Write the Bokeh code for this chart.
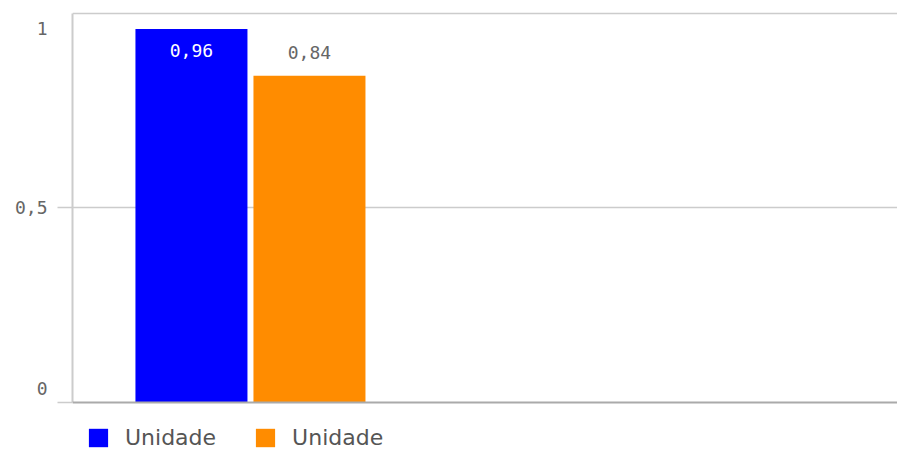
from bokeh.plotting import figure
from bokeh.models import (Range1d, ColumnDataSource, LabelSet, Legend, LegendItem,
                          FixedTicker, Span)
from bokeh.embed import file_html
from bokeh.resources import INLINE

# ---- data ----
series_names = ["Unidade", "Unidade"]
series_values = [0.96, 0.84]
series_colors = ["#0000ff", "#ff8c00"]
value_labels = ["0,96", "0,84"]
y_ticks = [0, 0.5, 1]
y_tick_labels = ["0", "0,5", "1"]

Y0, Y1 = -0.126, 1.005
FRAME_H = 451 - 11
px_per_unit = FRAME_H / (Y1 - Y0)

p = figure(width=897, height=451, output_backend="svg", toolbar_location=None,
           x_range=Range1d(-1.008, 5.983), y_range=Range1d(Y0, Y1),
           min_border_left=72, min_border_right=0, min_border_top=11,
           min_border_bottom=0)
p.outline_line_color = None
p.background_fill_color = "white"
p.border_fill_color = "white"

renderers = []
for i, (v, c) in enumerate(zip(series_values, series_colors)):
    src = ColumnDataSource(dict(x=[i], top=[v]))
    r = p.vbar(x="x", top="top", bottom=0, width=112 / 118, source=src,
               fill_color=c, line_color=None)
    renderers.append(r)

# grid
p.xgrid.visible = False
p.ygrid.ticker = FixedTicker(ticks=[0.5, 1])
p.ygrid.grid_line_color = "#cccccc"
p.ygrid.grid_line_width = 1.5

# y axis: end labels pulled inward (as in reference), stubs at 0 and 0.5
label_pos = []
for t in y_ticks:
    if t == 0:
        label_pos.append(t + 14 / px_per_unit)
    elif t == 1:
        label_pos.append(t - 15 / px_per_unit)
    else:
        label_pos.append(t)
p.yaxis.ticker = FixedTicker(ticks=label_pos, minor_ticks=[0, 0.5])
p.yaxis.major_label_overrides = {pos: lab for pos, lab in zip(label_pos, y_tick_labels)}
p.yaxis.bounds = (0, 1)
p.yaxis.axis_line_color = "#cccccc"
p.yaxis.axis_line_width = 2
p.yaxis.major_tick_line_color = None
p.yaxis.major_tick_out = 0
p.yaxis.major_tick_in = 0
p.yaxis.minor_tick_line_color = "#cccccc"
p.yaxis.minor_tick_line_width = 1.5
p.yaxis.minor_tick_out = 15
p.yaxis.minor_tick_in = 0
p.yaxis.major_label_standoff = 10
p.yaxis.major_label_text_font = "DejaVu Sans Mono"
p.yaxis.major_label_text_font_size = "18px"
p.yaxis.major_label_text_color = "#666666"

# x axis baseline
p.xaxis.visible = False
p.add_layout(Span(location=0, dimension="width", line_color="#aaaaaa", line_width=2))

# value labels
val_src = ColumnDataSource(dict(
    x=list(range(len(series_values))), y=series_values, text=value_labels,
    off=[-21, 23], color=["#ffffff", "#666666"]))
p.add_layout(LabelSet(x="x", y="y", text="text", source=val_src, y_offset="off",
                      text_align="center", text_baseline="middle",
                      text_font={"value": "DejaVu Sans Mono"}, text_font_size="18px",
                      text_color="color"))

# legend
items = [LegendItem(label=n, renderers=[r]) for n, r in zip(series_names, renderers)]
legend = Legend(items=items, orientation="horizontal", location=(14, 1),
                padding=0, margin=0, spacing=37, glyph_width=24, glyph_height=23,
                label_standoff=15, label_text_font="DejaVu Sans",
                label_text_font_size="22px", label_text_color="#555555",
                border_line_color=None, background_fill_alpha=0,
                label_height=23)
p.add_layout(legend, "center")

open("out.html", "w").write(file_html(p, INLINE))
